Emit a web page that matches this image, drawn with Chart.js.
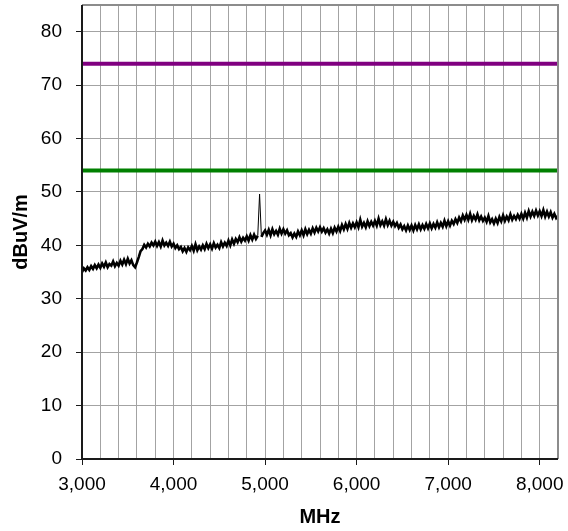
<!DOCTYPE html>
<html>
<head>
<meta charset="utf-8">
<script src="https://cdn.jsdelivr.net/npm/chart.js@4.4.1/dist/chart.umd.min.js"></script>
<style>
html,body{margin:0;padding:0;background:#fff;}
canvas{display:block;}
</style>
</head>
<body>
<canvas id="c" width="568" height="531"></canvas>
<script>
// ---- data ----
const freqStart = 3000;   // MHz, first sweep point
const freqStep = 20;      // MHz, sweep step
const traceValues = [
  35.0, 35.7, 35.3, 35.9, 35.4, 36.1, 35.6, 36.3, 35.7, 36.4,
  35.8, 36.6, 36.0, 36.8, 35.9, 36.5, 36.2, 37.0, 36.1, 36.7,
  36.2, 37.1, 36.4, 37.3, 36.5, 37.5, 36.6, 37.2, 36.3, 35.9,
  36.8, 37.8, 38.9, 39.3, 40.1, 39.6, 40.3, 39.8, 40.5, 40.0,
  40.7, 39.9, 40.6, 39.8, 40.9, 40.0, 40.5, 39.9, 40.7, 39.8,
  40.3, 39.5, 40.0, 39.3, 39.7, 38.9, 39.5, 38.8, 39.6, 39.1,
  39.9, 39.0, 40.2, 39.1, 39.8, 39.2, 40.0, 39.3, 40.3, 39.5,
  40.2, 39.4, 40.4, 39.6, 40.1, 39.5, 40.6, 39.8, 40.5, 39.9,
  40.9, 40.0, 41.1, 40.3, 41.2, 40.6, 41.5, 40.7, 41.4, 40.9,
  41.7, 40.9, 41.9, 41.1, 42.0, 41.2, 41.8, 49.6, 41.6, 42.3,
  42.8, 42.0, 42.9, 41.9, 43.0, 42.1, 42.7, 42.0, 43.1, 42.2,
  43.0, 42.2, 42.8, 41.9, 42.3, 41.5, 42.2, 41.6, 42.6, 41.9,
  42.8, 41.9, 43.0, 42.1, 42.9, 42.2, 43.2, 42.4, 43.3, 42.6,
  43.4, 42.6, 43.2, 42.4, 43.0, 42.2, 43.1, 42.3, 43.3, 42.6,
  43.5, 42.7, 43.8, 43.0, 44.0, 43.1, 44.2, 43.3, 44.1, 43.4,
  44.3, 43.4, 44.8, 43.5, 44.2, 43.4, 44.5, 43.6, 44.4, 43.7,
  44.6, 43.7, 45.0, 43.8, 44.5, 43.7, 44.9, 43.8, 44.6, 43.7,
  44.4, 43.6, 44.2, 43.3, 43.9, 43.0, 43.6, 42.8, 43.7, 42.9,
  43.7, 42.8, 43.8, 43.0, 43.9, 43.0, 43.8, 43.1, 44.0, 43.2,
  44.1, 43.2, 44.0, 43.3, 44.3, 43.4, 44.2, 43.5, 44.6, 43.6,
  44.5, 43.7, 44.6, 44.0, 44.9, 44.2, 45.2, 44.5, 45.6, 44.8,
  45.7, 44.8, 45.9, 44.7, 45.5, 44.8, 45.8, 44.7, 45.4, 44.6,
  45.2, 44.4, 45.5, 44.3, 44.9, 44.1, 45.0, 44.2, 45.3, 44.5,
  45.6, 44.6, 45.4, 44.7, 45.8, 44.8, 45.5, 44.9, 45.7, 45.0,
  45.9, 45.0, 46.1, 45.2, 46.4, 45.4, 46.3, 45.5, 46.5, 45.6,
  46.4, 45.5, 46.6, 45.4, 46.3, 45.4, 46.2, 45.2, 45.9, 45.1,
  45.5
];
const limitRange = [3000, 8200];   // MHz
const peakLimit = [74, 74];        // dBuV/m
const avgLimit = [54, 54];         // dBuV/m
const xTickLabels = ['3,000', '4,000', '5,000', '6,000', '7,000', '8,000'];
const yTickLabels = ['0', '10', '20', '30', '40', '50', '60', '70', '80'];

// ---- build ----
const tracePts = traceValues.map((v, i) => ({x: freqStart + i * freqStep, y: v}));
const peakPts = limitRange.map((f, i) => ({x: f, y: peakLimit[i]}));
const avgPts = limitRange.map((f, i) => ({x: f, y: avgLimit[i]}));
const spikeIdx = traceValues.indexOf(Math.max(...traceValues));

const FONT = "'Liberation Sans', Arial, sans-serif";

const borderPlugin = {
  id: 'plotBorder',
  afterDraw(chart) {
    const {ctx, chartArea: a} = chart;
    ctx.save();
    ctx.lineWidth = 2;
    ctx.strokeStyle = '#8c8c8c';
    ctx.beginPath();
    ctx.moveTo(a.left, a.top);
    ctx.lineTo(a.right, a.top);
    ctx.lineTo(a.right, a.bottom);
    ctx.stroke();
    ctx.strokeStyle = '#1a1a1a';
    ctx.beginPath();
    ctx.moveTo(a.left, a.top);
    ctx.lineTo(a.left, a.bottom);
    ctx.lineTo(a.right, a.bottom);
    ctx.stroke();
    ctx.restore();
  }
};

new Chart(document.getElementById('c'), {
  type: 'line',
  data: {
    datasets: [
      {data: tracePts, borderColor: '#000000', borderWidth: 2.6, pointRadius: 0, tension: 0, order: 1,
       segment: {borderWidth: (c) => (c.p0DataIndex === spikeIdx || c.p1DataIndex === spikeIdx) ? 1 : 2.6}},
      {data: peakPts, borderColor: '#800080', borderWidth: 4, pointRadius: 0, order: 2},
      {data: avgPts, borderColor: '#008000', borderWidth: 4, pointRadius: 0, order: 2}
    ]
  },
  options: {
    responsive: false,
    animation: false,
    events: [],
    layout: {padding: {top: 5, right: 10, left: 0, bottom: 0}},
    plugins: {legend: {display: false}, tooltip: {enabled: false}},
    scales: {
      x: {
        type: 'linear',
        min: 3000, max: 8200,
        afterFit(s) { s.height = 72; s.paddingLeft = 0; s.paddingRight = 0; },
        border: {display: false},
        grid: {
          color: '#a3a3a3', lineWidth: 1, tickLength: 6,
          tickColor: (c) => (c.tick && c.tick.value % 1000 === 0) ? '#1a1a1a' : 'rgba(0,0,0,0)'
        },
        ticks: {
          stepSize: 200, includeBounds: false, autoSkip: false, maxRotation: 0,
          color: '#000', padding: 8, font: {family: FONT, size: 19},
          callback: (v) => v % 1000 === 0 ? xTickLabels[(v - 3000) / 1000] : ''
        },
        title: {display: true, text: 'MHz', color: '#000', font: {family: FONT, size: 20, weight: 'bold'}, padding: {top: 4, bottom: 2}}
      },
      y: {
        min: 0, max: 85,
        afterFit(s) { s.width = 82; s.paddingTop = 0; s.paddingBottom = 0; },
        border: {display: false},
        grid: {color: '#a3a3a3', lineWidth: 1, tickLength: 6, tickColor: '#1a1a1a'},
        ticks: {
          stepSize: 10, includeBounds: false,
          color: '#000', padding: 14, font: {family: FONT, size: 19},
          callback: (v) => yTickLabels[v / 10]
        },
        title: {display: true, text: 'dBuV/m', color: '#000', font: {family: FONT, size: 20, weight: 'bold'}, padding: {top: 9, bottom: 0}}
      }
    }
  },
  plugins: [borderPlugin]
});
</script>
</body>
</html>
